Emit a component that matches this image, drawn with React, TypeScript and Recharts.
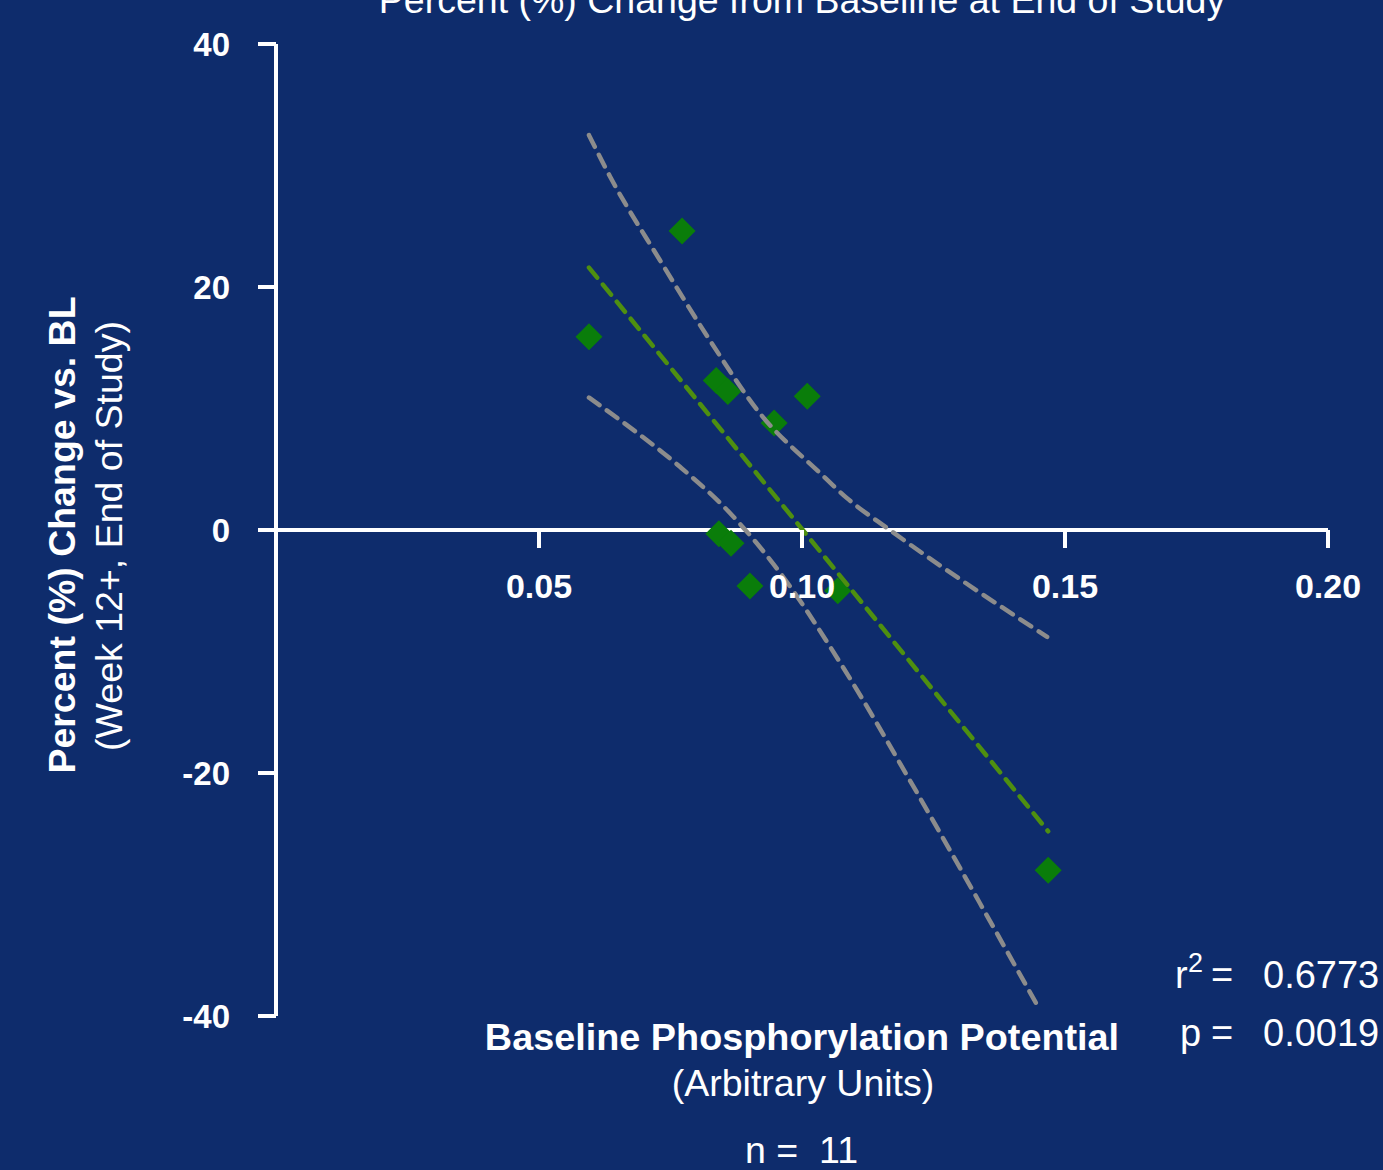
import React from 'react';
import { ScatterChart, Scatter, XAxis, YAxis, ReferenceLine } from 'recharts';

// ---- data ----
const BASELINE_PP = [0.0595, 0.0772, 0.0837, 0.0859, 0.0947, 0.101, 0.0842, 0.0865, 0.0901, 0.1068, 0.1468];
const PCT_CHANGE = [15.9, 24.6, 12.3, 11.4, 8.8, 11.0, -0.3, -1.1, -4.6, -5.0, -28.0];

const FIT_X = [0.0595, 0.1468];
const FIT_Y = [21.6, -24.8];

const UPPER_X = [0.0595, 0.0635, 0.073, 0.0825, 0.092, 0.1034, 0.1086, 0.1167, 0.1466];
const UPPER_Y = [32.5, 29.1, 22.2, 15.6, 9.6, 4.7, 2.6, 0, -8.8];

const LOWER_X = [0.0595, 0.0654, 0.0768, 0.0863, 0.0958, 0.1078, 0.1205, 0.1338, 0.1447];
const LOWER_Y = [10.9, 9.05, 5.2, 1.4, -3.5, -11.3, -20.6, -30.7, -39.1];

const X_TICKS = [0.05, 0.1, 0.15, 0.2];
const Y_TICKS = [-40, -20, 0, 20, 40];
const X_DOMAIN: [number, number] = [0, 0.2];
const Y_DOMAIN: [number, number] = [-40, 40];

const TITLE = 'Percent (%) Change from Baseline at End of Study';
const Y_LABEL_BOLD = 'Percent (%) Change vs. BL';
const Y_LABEL_SUB = '(Week 12+, End of Study)';
const X_LABEL_BOLD = 'Baseline Phosphorylation Potential';
const X_LABEL_SUB = '(Arbitrary Units)';
const N_VALUE = '11';
const R2_VALUE = '0.6773';
const P_VALUE = '0.0019';

// ---- layout / style ----
const W = 1383;
const H = 1170;
const MARGIN = { top: 44, right: 55, bottom: 153, left: 216 };
const Y_AXIS_W = 60;
const X_AXIS_H = 1;
const PLOT_H = H - MARGIN.top - MARGIN.bottom - X_AXIS_H;
const ZERO_Y = MARGIN.top + (PLOT_H * (Y_DOMAIN[1] - 0)) / (Y_DOMAIN[1] - Y_DOMAIN[0]);

const BG = '#0e2c6c';
const WHITE = '#ffffff';
const DIAMOND = '#0a7d0a';
const FIT_COLOR = '#4e8f10';
const BAND_COLOR = '#8c8c8c';
const FONT = '"Liberation Sans", Arial, Helvetica, sans-serif';

const points = BASELINE_PP.map((x, i) => ({ x, y: PCT_CHANGE[i] }));
const fit = FIT_X.map((x, i) => ({ x, y: FIT_Y[i] }));
const upper = UPPER_X.map((x, i) => ({ x, y: UPPER_Y[i] }));
const lower = LOWER_X.map((x, i) => ({ x, y: LOWER_Y[i] }));

const Diamond = (props: any) => {
  const { cx, cy } = props;
  if (cx == null || cy == null) return <g />;
  const r = 13.5;
  return (
    <polygon
      points={`${cx},${cy - r} ${cx + r},${cy} ${cx},${cy + r} ${cx - r},${cy}`}
      fill={DIAMOND}
    />
  );
};

const Empty = () => <g />;

const XTick = (props: any) => {
  const { x, payload } = props;
  return (
    <g>
      <line x1={x} x2={x} y1={ZERO_Y} y2={ZERO_Y + 18} stroke={WHITE} strokeWidth={4} />
      <text
        x={x}
        y={ZERO_Y + 68}
        textAnchor="middle"
        fill={WHITE}
        fontSize={34}
        fontWeight="bold"
        fontFamily={FONT}
      >
        {Number(payload.value).toFixed(2)}
      </text>
    </g>
  );
};

const dashed = (color: string) => ({
  stroke: color,
  strokeWidth: 4.5,
  strokeDasharray: '13 9',
  strokeLinecap: 'round' as const,
  fill: 'none',
});

export default function App() {
  return (
    <div
      style={{
        position: 'absolute',
        left: 0,
        top: 0,
        width: W,
        height: H,
        background: BG,
        overflow: 'hidden',
      }}
    >
      <ScatterChart width={W} height={H} margin={MARGIN}>
        <XAxis
          type="number"
          dataKey="x"
          domain={X_DOMAIN}
          ticks={X_TICKS}
          interval={0}
          height={X_AXIS_H}
          axisLine={false}
          tickLine={false}
          tick={<XTick />}
          allowDataOverflow
        />
        <YAxis
          type="number"
          dataKey="y"
          domain={Y_DOMAIN}
          ticks={Y_TICKS}
          interval={0}
          width={Y_AXIS_W}
          tickSize={18}
          tickMargin={28}
          axisLine={{ stroke: WHITE, strokeWidth: 4 }}
          tickLine={{ stroke: WHITE, strokeWidth: 4 }}
          tick={{ fill: WHITE, fontSize: 33, fontWeight: 'bold', fontFamily: FONT }}
          allowDataOverflow
        />
        <ReferenceLine y={0} stroke={WHITE} strokeWidth={4} />
        <Scatter data={points} fill={DIAMOND} shape={<Diamond />} isAnimationActive={false} />
        <Scatter
          data={upper}
          fill={BAND_COLOR}
          shape={<Empty />}
          line={dashed(BAND_COLOR)}
          lineType="joint"
          lineJointType="monotoneX"
          isAnimationActive={false}
        />
        <Scatter
          data={lower}
          fill={BAND_COLOR}
          shape={<Empty />}
          line={dashed(BAND_COLOR)}
          lineType="joint"
          lineJointType="monotoneX"
          isAnimationActive={false}
        />
        <Scatter
          data={fit}
          fill={FIT_COLOR}
          shape={<Empty />}
          line={dashed(FIT_COLOR)}
          lineType="joint"
          isAnimationActive={false}
        />
      </ScatterChart>
      <svg
        width={W}
        height={H}
        style={{ position: 'absolute', left: 0, top: 0, pointerEvents: 'none' }}
        fontFamily={FONT}
        fill={WHITE}
      >
        <text x={802} y={13} textAnchor="middle" fontSize={37.5}>
          {TITLE}
        </text>
        <text transform="translate(75,535) rotate(-90)" textAnchor="middle" fontSize={37.5} fontWeight="bold">
          {Y_LABEL_BOLD}
        </text>
        <text transform="translate(122,536) rotate(-90)" textAnchor="middle" fontSize={37.5}>
          {Y_LABEL_SUB}
        </text>
        <text x={802} y={1050} textAnchor="middle" fontSize={37.8} fontWeight="bold">
          {X_LABEL_BOLD}
        </text>
        <text x={803} y={1096} textAnchor="middle" fontSize={37.5}>
          {X_LABEL_SUB}
        </text>
        <text x={745} y={1163} fontSize={37.5}>
          n =
        </text>
        <text x={858} y={1163} textAnchor="end" fontSize={37.5}>
          {N_VALUE}
        </text>
        <text x={1175} y={988} fontSize={38}>
          r
        </text>
        <text x={1188} y={972} fontSize={27}>
          2
        </text>
        <text x={1211} y={988} fontSize={38}>
          =
        </text>
        <text x={1263} y={988} fontSize={38}>
          {R2_VALUE}
        </text>
        <text x={1180} y={1046} fontSize={38}>
          p
        </text>
        <text x={1211} y={1046} fontSize={38}>
          =
        </text>
        <text x={1263} y={1046} fontSize={38}>
          {P_VALUE}
        </text>
      </svg>
    </div>
  );
}
